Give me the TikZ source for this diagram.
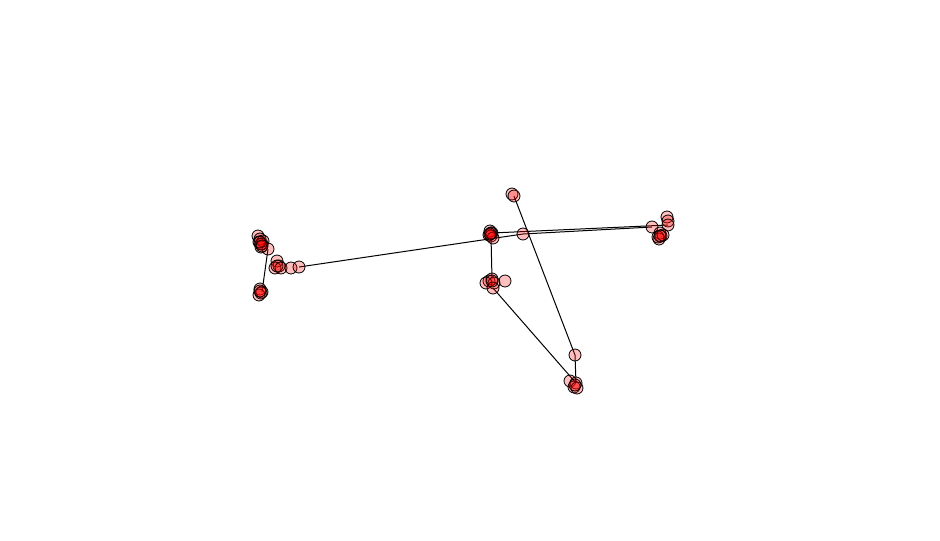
\documentclass[tikz,border=0pt]{standalone}
\begin{document}
\begin{tikzpicture}[x=0.75pt,y=-0.75pt,
  nd/.style={circle,draw=black,line width=0.6pt,fill=red,fill opacity=0.25,draw opacity=1,minimum size=9pt,inner sep=0pt},
  ed/.style={draw=black,line width=0.75pt}]
\useasboundingbox (0,0) rectangle (940,540);
% nodes
\foreach \n/\x/\y in {a1/258/236,a2/260/239,a3/259/242,a4/262/244,a5/261/247,a6/263/241,a7/268/249,a8/261/244,a9/260/242,a10/262/246,
  b1/277/261,b2/279/266,b3/275/268,b4/277/266,b5/281/268,b6/291/268,b7/299/267,
  c1/260/289,c2/262/292,c3/259/295,c4/261/293,c5/260/291,
  d1/490/231,d2/492/233,d3/489/235,d4/491/236,d5/493/238,d6/491/233,d7/490/234,
  e/523/234,g1/512/194,g2/514/196,
  e1/489/281,e2/492/279,e3/494/283,e4/505/281,e5/486/283,e6/493/288,e7/492/281,
  s/575/355,f1/570/381,f2/576/383,f3/574/387,f4/577/388,f5/575/385,
  h1/652/227,h2/667/217,h3/668/221,h4/668/225,h5/660/233,h6/661/236,h7/659/239,h8/658/237,h9/663/235,h10/660/236}
  \coordinate (\n) at (\x,\y);
% edges
\draw[ed] (a7) -- (c2);
\draw[ed] (b7) -- (e);
\draw[ed] (e) -- (h1);
\draw[ed] (d2) -- (h4);
\draw[ed] (d4) -- (e2);
\draw[ed] (e6) -- (f2);
\draw[ed] (g2) -- (s);
\draw[ed] (s) -- (f2);
% node circles
\foreach \n in {a1,a2,a3,a4,a5,a6,a7,a8,a9,a10,b1,b2,b3,b4,b5,b6,b7,c1,c2,c3,c4,c5,d1,d2,d3,d4,d5,d6,d7,e,g1,g2,e1,e2,e3,e4,e5,e6,e7,s,f1,f2,f3,f4,f5,h1,h2,h3,h4,h5,h6,h7,h8,h9,h10}
  \node[nd] (n\n) at (\n) {};
\end{tikzpicture}
\end{document}
